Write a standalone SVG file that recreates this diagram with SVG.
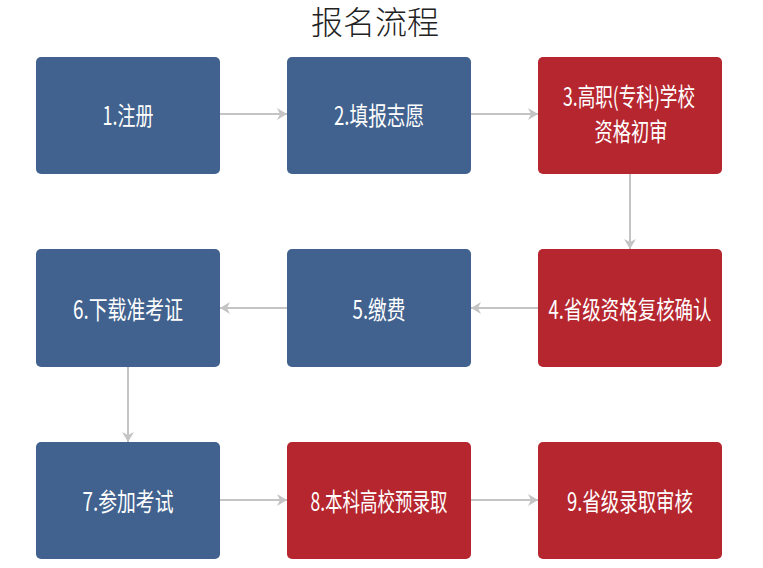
<svg xmlns="http://www.w3.org/2000/svg" width="763" height="568" viewBox="0 0 763 568">
<defs>
<style>
.blue{fill:#41628E;}
.red{fill:#B6262F;}
.lbl{fill:#ffffff;font-family:"Noto Sans CJK SC","Liberation Sans",sans-serif;font-size:25px;text-anchor:middle;}
.title{fill:#222222;font-family:"Noto Sans CJK SC",sans-serif;font-size:32px;font-weight:300;text-anchor:middle;}
.conn{stroke:#C4C4C4;stroke-width:2;fill:none;marker-end:url(#ah);}
</style>
<marker id="ah" viewBox="0 0 10 12" refX="10" refY="6" markerWidth="10" markerHeight="12" markerUnits="userSpaceOnUse" orient="auto">
<path d="M0,0 L10,6 L0,12 L3,6 z" fill="#C4C4C4"/>
</marker>
</defs>
<rect width="763" height="568" fill="#ffffff"/>
<text class="title" x="375" y="34">报名流程</text>
<g id="connectors">
<line class="conn" x1="220" y1="114" x2="287" y2="114"/>
<line class="conn" x1="471" y1="114" x2="538" y2="114"/>
<line class="conn" x1="630" y1="174" x2="630" y2="249"/>
<line class="conn" x1="538" y1="308" x2="471" y2="308"/>
<line class="conn" x1="287" y1="308" x2="220" y2="308"/>
<line class="conn" x1="128" y1="367" x2="128" y2="442"/>
<line class="conn" x1="220" y1="500" x2="287" y2="500"/>
<line class="conn" x1="471" y1="500" x2="538" y2="500"/>
</g>
<g id="n1"><rect class="blue" x="36" y="57" width="184" height="117" rx="5"/><text class="lbl" x="128" y="125" textLength="51" lengthAdjust="spacingAndGlyphs">1.注册</text></g>
<g id="n2"><rect class="blue" x="287" y="57" width="184" height="117" rx="5"/><text class="lbl" x="379" y="125" textLength="90" lengthAdjust="spacingAndGlyphs">2.填报志愿</text></g>
<g id="n3"><rect class="red" x="538" y="57" width="184" height="117" rx="5"/><text class="lbl" x="629" y="106" textLength="132" lengthAdjust="spacingAndGlyphs">3.高职(专科)学校</text><text class="lbl" x="631" y="141" textLength="73" lengthAdjust="spacingAndGlyphs">资格初审</text></g>
<g id="n4"><rect class="red" x="538" y="249" width="184" height="118" rx="5"/><text class="lbl" x="630" y="319" textLength="163" lengthAdjust="spacingAndGlyphs">4.省级资格复核确认</text></g>
<g id="n5"><rect class="blue" x="287" y="249" width="184" height="118" rx="5"/><text class="lbl" x="379" y="319" textLength="53" lengthAdjust="spacingAndGlyphs">5.缴费</text></g>
<g id="n6"><rect class="blue" x="36" y="249" width="184" height="118" rx="5"/><text class="lbl" x="128" y="319" textLength="110" lengthAdjust="spacingAndGlyphs">6.下载准考证</text></g>
<g id="n7"><rect class="blue" x="36" y="442" width="184" height="117" rx="5"/><text class="lbl" x="128" y="511" textLength="91" lengthAdjust="spacingAndGlyphs">7.参加考试</text></g>
<g id="n8"><rect class="red" x="287" y="442" width="184" height="117" rx="5"/><text class="lbl" x="379" y="511" textLength="137" lengthAdjust="spacingAndGlyphs">8.本科高校预录取</text></g>
<g id="n9"><rect class="red" x="538" y="442" width="184" height="117" rx="5"/><text class="lbl" x="630" y="511" textLength="126" lengthAdjust="spacingAndGlyphs">9.省级录取审核</text></g>
</svg>
